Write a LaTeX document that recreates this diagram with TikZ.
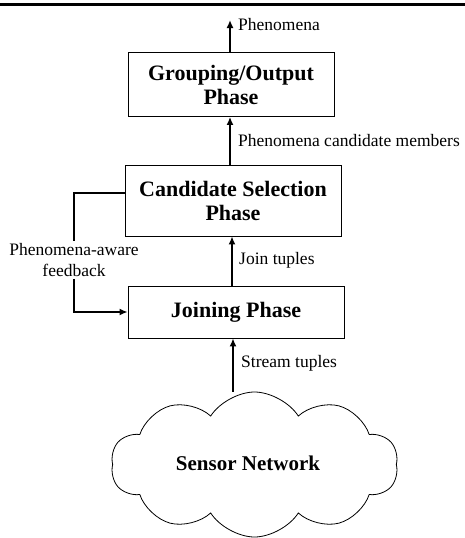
\documentclass[tikz,border=0pt]{standalone}
\usepackage{fontspec}
\setmainfont{Liberation Serif}
\usetikzlibrary{shapes.symbols, arrows.meta, calc}

\tikzset{
    phase/.style={draw=black, line width=0.8pt, align=center, inner sep=0pt,
        font=\fontsize{22}{24}\selectfont\bfseries},
    flow/.style={line width=2pt, -{Latex[length=8pt,width=7pt]}},
    wire/.style={line width=2pt},
    lbl/.style={anchor=west, inner sep=0pt, font=\fontsize{17.5}{21}\selectfont}
}

\begin{document}
\begin{tikzpicture}[x=1pt,y=-1pt]
    \useasboundingbox (0,0) rectangle (465,538);
    % Linea in alto
    \draw[line width=3pt] (0,4) -- (465,4);

    % Fasi
    \node[phase, minimum width=206pt, minimum height=64pt] (group) at (231,84.5) {Grouping/Output\\Phase};
    \node[phase, minimum width=216pt, minimum height=71pt] (cand) at (233,200.5) {Candidate Selection\\Phase};
    \node[phase, minimum width=216pt, minimum height=52pt] (join) at (236,312) {Joining Phase};

    % Rete di sensori
    \node[cloud, draw=black, line width=0.8pt, cloud puffs=10, cloud puff arc=115, aspect=2,
        minimum width=287pt, minimum height=145pt] (net) at (254.5,464.5) {};
    \node[font=\fontsize{21}{24}\selectfont\bfseries] (nettext) at (248,463) {Sensor Network};

    % Frecce
    \coordinate (out) at (group.north -| 230,0);
    \coordinate (top) at (230,20);
    \draw[flow] (out) -- (top);
    \draw[flow] (cand.north -| 230,0) -- (group.south -| 230,0);
    \draw[flow] (join.north -| 232,0) -- (cand.south -| 232,0);
    \draw[flow] (net.north -| 233,0) -- (join.south -| 233,0);

    % Feedback
    \node[align=center, inner sep=2pt, font=\fontsize{17.5}{21}\selectfont] (fb) at (74,260) {Phenomena-aware\\feedback};
    \draw[wire] ([yshift=7.5pt]cand.west) -| (fb.north);
    \draw[flow] (fb.south) |- (join.west);

    % Etichette
    \node[lbl] (lphen) at (238,25) {Phenomena};
    \node[lbl] (lcand) at (238,141) {Phenomena candidate members};
    \node[lbl] (ljoin) at (239,260) {Join tuples};
    \node[lbl] (lstream) at (241,363) {Stream tuples};
\end{tikzpicture}
\end{document}
